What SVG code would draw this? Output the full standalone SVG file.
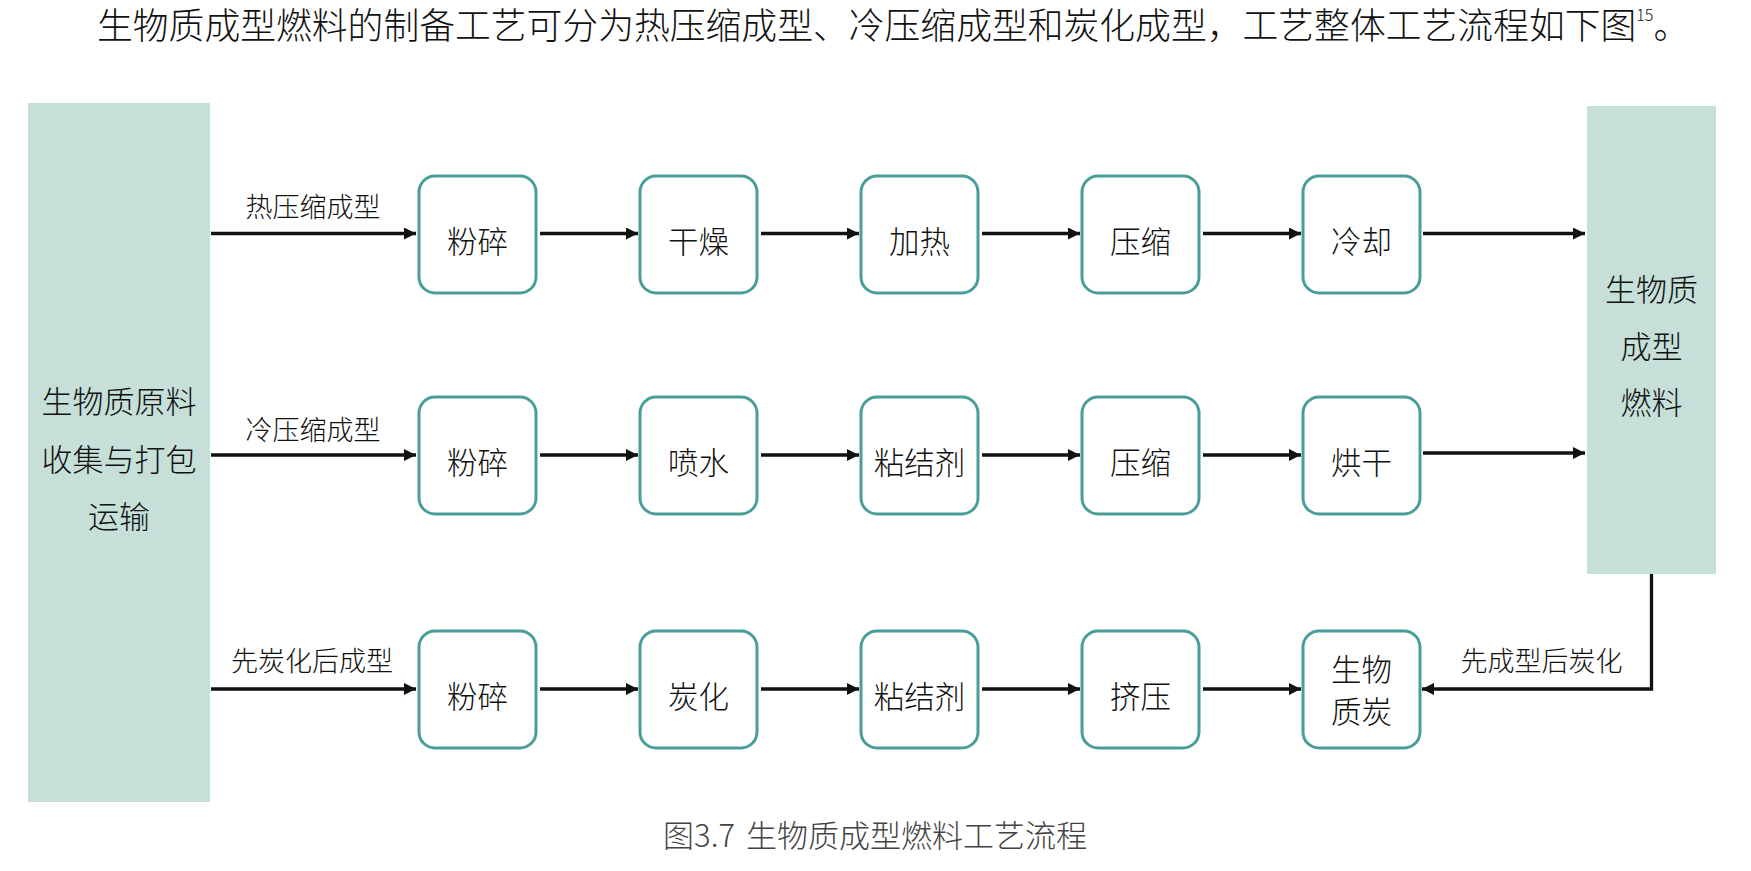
<svg xmlns="http://www.w3.org/2000/svg" width="1751" height="871" viewBox="0 0 1751 871">
<style>
.cjk{font-family:"Noto Sans CJK SC","Noto Sans",sans-serif;fill:#111;font-weight:300}
.col{fill:#c6dfd9}
.box{fill:#fff;stroke:#4a9e99;stroke-width:3}
.bt{font-size:30.5px;text-anchor:middle}
.ct{font-size:31px;text-anchor:middle}
.lb{font-size:27px;text-anchor:middle}
.ar{fill:none;stroke:#111;stroke-width:3.3}
</style>
<defs>
<marker id="ah" markerUnits="userSpaceOnUse" markerWidth="12" markerHeight="12" refX="12" refY="6" orient="auto">
<path d="M0,0 L12,6 L0,12 z" fill="#111"/>
</marker>
</defs>
<rect width="1751" height="871" fill="#fff"/>
<text class="cjk" x="97" y="39" font-size="35.8">生物质成型燃料的制备工艺可分为热压缩成型、冷压缩成型和炭化成型，工艺整体工艺流程如下图<tspan font-size="16" dy="-18">15</tspan><tspan dy="18">。</tspan></text>

<g id="src">
<rect class="col" x="28" y="103" width="182" height="699"/>
<text class="cjk ct" x="119" y="413">生物质原料</text>
<text class="cjk ct" x="119" y="471">收集与打包</text>
<text class="cjk ct" x="119" y="528">运输</text>
</g>
<g id="dst">
<rect class="col" x="1587" y="106" width="129" height="468"/>
<text class="cjk ct" x="1651.5" y="301">生物质</text>
<text class="cjk ct" x="1651.5" y="357.5">成型</text>
<text class="cjk ct" x="1651.5" y="414">燃料</text>
</g>

<g id="r1n1"><rect class="box" x="419" y="176" width="117" height="117" rx="16"/><text class="cjk bt" x="477.5" y="252.5">粉碎</text></g>
<g id="r1n2"><rect class="box" x="640" y="176" width="117" height="117" rx="16"/><text class="cjk bt" x="698.5" y="252.5">干燥</text></g>
<g id="r1n3"><rect class="box" x="861" y="176" width="117" height="117" rx="16"/><text class="cjk bt" x="919.5" y="252.5">加热</text></g>
<g id="r1n4"><rect class="box" x="1082" y="176" width="117" height="117" rx="16"/><text class="cjk bt" x="1140.5" y="252.5">压缩</text></g>
<g id="r1n5"><rect class="box" x="1303" y="176" width="117" height="117" rx="16"/><text class="cjk bt" x="1361.5" y="252.5">冷却</text></g>

<g id="r2n1"><rect class="box" x="419" y="397" width="117" height="117" rx="16"/><text class="cjk bt" x="477.5" y="473.5">粉碎</text></g>
<g id="r2n2"><rect class="box" x="640" y="397" width="117" height="117" rx="16"/><text class="cjk bt" x="698.5" y="473.5">喷水</text></g>
<g id="r2n3"><rect class="box" x="861" y="397" width="117" height="117" rx="16"/><text class="cjk bt" x="919.5" y="473.5">粘结剂</text></g>
<g id="r2n4"><rect class="box" x="1082" y="397" width="117" height="117" rx="16"/><text class="cjk bt" x="1140.5" y="473.5">压缩</text></g>
<g id="r2n5"><rect class="box" x="1303" y="397" width="117" height="117" rx="16"/><text class="cjk bt" x="1361.5" y="473.5">烘干</text></g>

<g id="r3n1"><rect class="box" x="419" y="631" width="117" height="117" rx="16"/><text class="cjk bt" x="477.5" y="707.5">粉碎</text></g>
<g id="r3n2"><rect class="box" x="640" y="631" width="117" height="117" rx="16"/><text class="cjk bt" x="698.5" y="707.5">炭化</text></g>
<g id="r3n3"><rect class="box" x="861" y="631" width="117" height="117" rx="16"/><text class="cjk bt" x="919.5" y="707.5">粘结剂</text></g>
<g id="r3n4"><rect class="box" x="1082" y="631" width="117" height="117" rx="16"/><text class="cjk bt" x="1140.5" y="707.5">挤压</text></g>
<g id="r3n5"><rect class="box" x="1303" y="631" width="117" height="117" rx="16"/><text class="cjk bt" x="1361.5" y="681">生物</text><text class="cjk bt" x="1361.5" y="723">质炭</text></g>

<g id="connectors">
<path class="ar" marker-end="url(#ah)" d="M211,233.5 H416"/>
<path class="ar" marker-end="url(#ah)" d="M540,233.5 H638"/>
<path class="ar" marker-end="url(#ah)" d="M761,233.5 H859"/>
<path class="ar" marker-end="url(#ah)" d="M982,233.5 H1080"/>
<path class="ar" marker-end="url(#ah)" d="M1203,233.5 H1301"/>
<path class="ar" marker-end="url(#ah)" d="M1423,233.5 H1585"/>

<path class="ar" marker-end="url(#ah)" d="M211,455 H416"/>
<path class="ar" marker-end="url(#ah)" d="M540,455 H638"/>
<path class="ar" marker-end="url(#ah)" d="M761,455 H859"/>
<path class="ar" marker-end="url(#ah)" d="M982,455 H1080"/>
<path class="ar" marker-end="url(#ah)" d="M1203,455 H1301"/>
<path class="ar" marker-end="url(#ah)" d="M1423,453 H1585"/>

<path class="ar" marker-end="url(#ah)" d="M211,689 H416"/>
<path class="ar" marker-end="url(#ah)" d="M540,689 H638"/>
<path class="ar" marker-end="url(#ah)" d="M761,689 H859"/>
<path class="ar" marker-end="url(#ah)" d="M982,689 H1080"/>
<path class="ar" marker-end="url(#ah)" d="M1203,689 H1301"/>
<path class="ar" marker-end="url(#ah)" d="M1651.5,574 V689 H1422"/>

<text class="cjk lb" x="313" y="217">热压缩成型</text>
<text class="cjk lb" x="313" y="440">冷压缩成型</text>
<text class="cjk lb" x="312" y="671">先炭化后成型</text>
<text class="cjk lb" x="1541.5" y="671">先成型后炭化</text>
</g>

<text x="875" y="847" font-family="Noto Sans CJK SC, Noto Sans, sans-serif" font-size="31" font-weight="300" fill="#444" text-anchor="middle" word-spacing="4">图3.7 生物质成型燃料工艺流程</text>
</svg>
